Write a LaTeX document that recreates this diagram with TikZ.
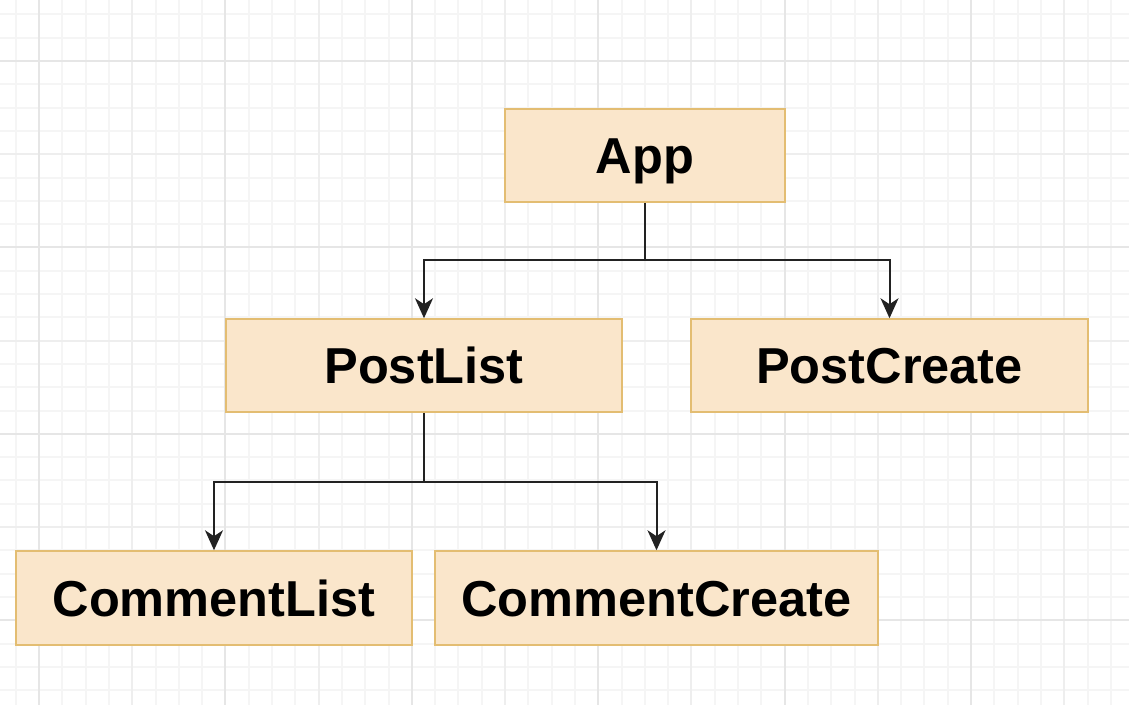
\documentclass[tikz,border=0pt]{standalone}
\usepackage{fontspec}
\setmainfont{Liberation Sans}
\usetikzlibrary{arrows.meta}
\definecolor{boxfill}{HTML}{FAE6CB}
\definecolor{boxline}{HTML}{E3BD72}
\definecolor{gridminor}{HTML}{F5F5F5}
\definecolor{gridmid}{HTML}{EEEEEE}
\definecolor{gridmajor}{HTML}{E6E6E6}
\definecolor{edgecol}{HTML}{222222}
\tikzset{
  comp/.style={draw=boxline, fill=boxfill, line width=1.5pt, inner sep=0pt,
    minimum height=93pt, text height=36pt, text depth=0pt,
    font=\fontsize{50.5}{60}\selectfont\bfseries, text=black},
  conn/.style={draw=edgecol, line width=2pt, -{Stealth[length=20pt,width=18pt,inset=6pt]}},
  plainconn/.style={draw=edgecol, line width=2pt},
}
\begin{document}
\begin{tikzpicture}[x=1pt,y=-1pt]
\fill[white] (0,0) rectangle (1129,705);
\useasboundingbox (0,0) rectangle (1129,705);
\foreach \k in {-1,...,46} \draw[gridminor, line width=2pt] ({39+23.3*\k},0) -- ({39+23.3*\k},705);
\foreach \k in {-2,...,27} \draw[gridminor, line width=2pt] (0,{61+23.3*\k}) -- (1129,{61+23.3*\k});
\foreach \k in {0,...,11} \draw[gridmid, line width=2pt] ({39+93.2*\k},0) -- ({39+93.2*\k},705);
\foreach \k in {0,...,6} \draw[gridmid, line width=2pt] (0,{61+93.2*\k}) -- (1129,{61+93.2*\k});
\foreach \k in {0,...,5} \draw[gridmajor, line width=2pt] ({39+186.4*\k},0) -- ({39+186.4*\k},705);
\foreach \k in {0,...,3} \draw[gridmajor, line width=2pt] (0,{61+186.4*\k}) -- (1129,{61+186.4*\k});

\node[comp, minimum width=280pt] (app) at (645,155.5) {App};
\node[comp, minimum width=396pt] (postlist) at (424,365.5) {PostList};
\node[comp, minimum width=397pt] (postcreate) at (889.5,365.5) {PostCreate};
\node[comp, minimum width=396pt, minimum height=94pt] (commentlist) at (214,598) {CommentList};
\node[comp, minimum width=443pt, minimum height=94pt] (commentcreate) at (656.5,598) {CommentCreate};

\coordinate (b1) at (645,260);
\coordinate (b2) at (424,482);
\draw[plainconn] (app.south) -- (b1);
\draw[conn] (b1) -| (postlist.north);
\draw[conn] (b1) -| (postcreate.north);
\draw[plainconn] (postlist.south) -- (b2);
\draw[conn] (b2) -| (commentlist.north);
\draw[conn] (b2) -| (commentcreate.north);
\end{tikzpicture}
\end{document}
